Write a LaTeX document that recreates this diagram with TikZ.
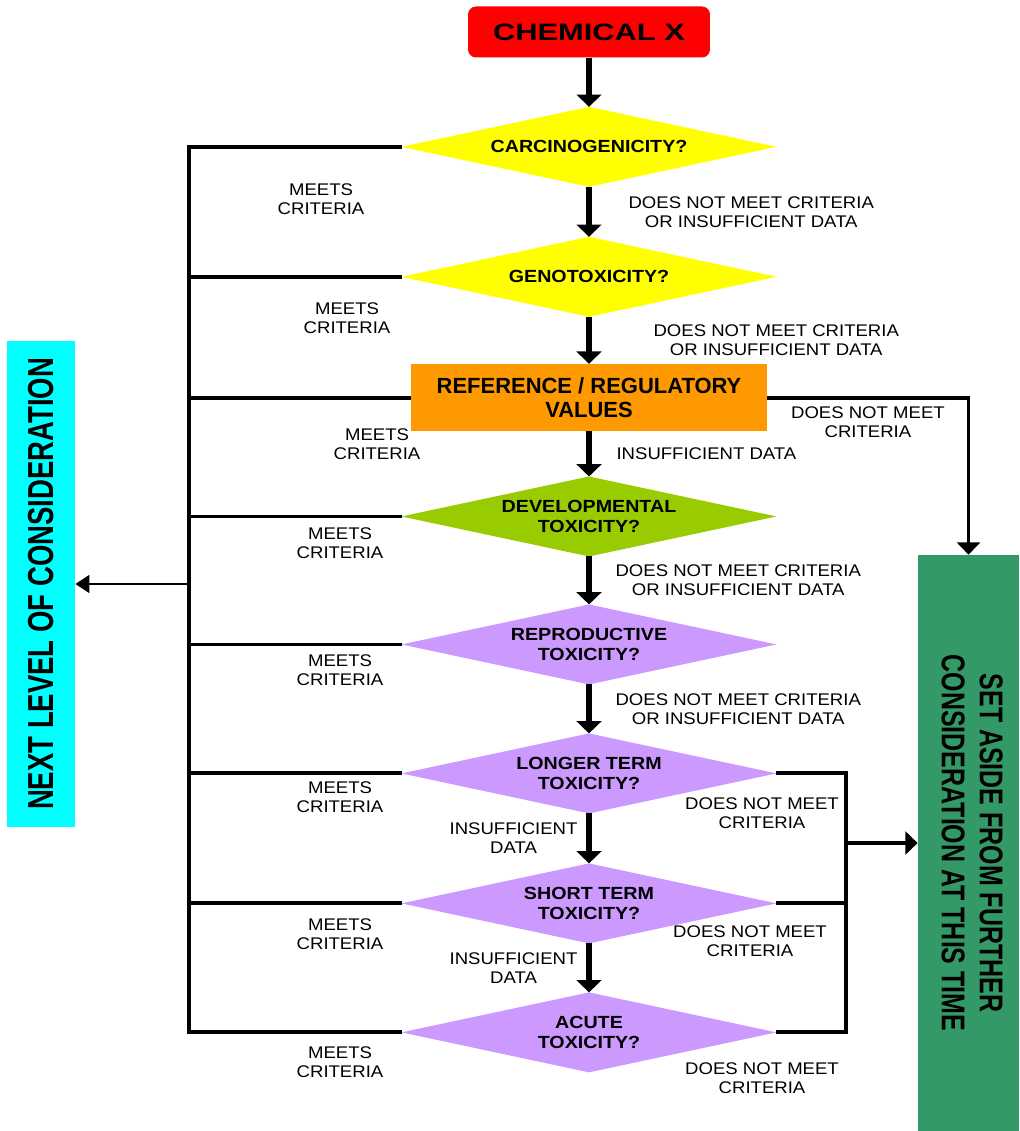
\documentclass[tikz,border=0pt]{standalone}
\usepackage{fontspec}
\setmainfont{Liberation Sans}
\newfontfamily\notefont{Liberation Sans}[FakeStretch=1.1]
\newfontfamily\qfont{Liberation Sans}[FakeStretch=1.12]
\newfontfamily\widefont{Liberation Sans}[FakeStretch=1.3]
\newfontfamily\narrowfont{Liberation Sans}[FakeStretch=0.76]
\definecolor{chemred}{RGB}{255, 0, 0}
\definecolor{qyellow}{RGB}{255, 255, 0}
\definecolor{refor}{RGB}{255, 153, 0}
\definecolor{devgreen}{RGB}{153, 204, 0}
\definecolor{qlilac}{RGB}{204, 153, 255}
\definecolor{nextcyan}{RGB}{0, 255, 255}
\definecolor{setgreen}{RGB}{51, 153, 102}
\usepackage{graphicx}
\usepackage{tikz}
\usetikzlibrary{arrows.meta, positioning, shapes.geometric}

\begin{document}
\begin{tikzpicture}[x=0.02cm, y=-0.02cm,
  startbox/.style={fill=chemred, rounded corners=0.16cm,
        minimum width=4.84cm, minimum height=1.02cm, inner sep=0pt,
        font=\widefont\bfseries\fontsize{13.5}{15}\selectfont},
  question/.style={diamond, aspect=4.7, inner sep=0pt, outer sep=0pt,
        minimum width=7.5cm, minimum height=1.6cm, align=center,
        font=\qfont\bfseries\fontsize{10}{11}\selectfont},
  refbox/.style={fill=refor, minimum width=7.12cm, minimum height=1.34cm,
        inner sep=0pt, align=center,
        font=\bfseries\fontsize{12.5}{14}\selectfont},
  nextbox/.style={fill=nextcyan, minimum width=1.36cm, minimum height=9.72cm,
        inner sep=0pt, font=\narrowfont\bfseries\fontsize{20.6}{24}\selectfont},
  setbox/.style={fill=setgreen, minimum width=2.02cm, minimum height=11.52cm,
        inner sep=0pt, font=\narrowfont\bfseries\fontsize{18.7}{21.7}\selectfont},
  note/.style={align=center, inner sep=1pt,
        font=\notefont\fontsize{9.6}{10.8}\selectfont},
  flow/.style={-{Triangle[width=14pt,length=7pt]}, line width=3.2pt},
  branch/.style={line width=2.2pt},
  sidearrow/.style={-{Triangle[width=13pt,length=7pt]}, line width=2.2pt},
  leftarrow/.style={-{Triangle[width=10pt,length=8pt]}, line width=1.7pt}]
  \useasboundingbox (0,0) rectangle (1019,1131);

  % main column
  \node[startbox] (chem) at (589,32) {CHEMICAL X};
  \node[question, fill=qyellow, below=0.98cm of chem] (carc) {CARCINOGENICITY?};
  \node[question, fill=qyellow, below=1cm of carc] (geno) {GENOTOXICITY?};
  \node[refbox, below=0.94cm of geno] (ref) {REFERENCE / REGULATORY\\VALUES};
  \node[question, fill=devgreen, below=0.9cm of ref] (dev) {DEVELOPMENTAL\\TOXICITY?};
  \node[question, fill=qlilac, below=0.96cm of dev] (repro) {REPRODUCTIVE\\TOXICITY?};
  \node[question, fill=qlilac, below=0.98cm of repro] (longt) {LONGER TERM\\TOXICITY?};
  \node[question, fill=qlilac, below=1cm of longt] (shortt) {SHORT TERM\\TOXICITY?};
  \node[question, fill=qlilac, below=0.98cm of shortt] (acute) {ACUTE\\TOXICITY?};

  % side boxes
  \node[nextbox] (next) at (41,584) {\rotatebox{90}{NEXT LEVEL OF CONSIDERATION}};
  \node[setbox] (setaside) at (968.5,843)
    {\rotatebox{-90}{\begin{tabular}{@{}c@{}}SET ASIDE FROM FURTHER\\CONSIDERATION AT THIS TIME\end{tabular}}};

  % down the column
  \draw[flow] (chem) -- (carc);
  \draw[flow] (carc) -- (geno)
    node[note, midway, right=0.7cm] {DOES NOT MEET CRITERIA\\OR INSUFFICIENT DATA};
  \draw[flow] (geno) -- (ref)
    node[note, midway, right=1.2cm] {DOES NOT MEET CRITERIA\\OR INSUFFICIENT DATA};
  \draw[flow] (ref) -- (dev)
    node[note, midway, right=0.46cm] {INSUFFICIENT DATA};
  \draw[flow] (dev) -- (repro)
    node[note, midway, right=0.44cm] {DOES NOT MEET CRITERIA\\OR INSUFFICIENT DATA};
  \draw[flow] (repro) -- (longt)
    node[note, midway, right=0.44cm] {DOES NOT MEET CRITERIA\\OR INSUFFICIENT DATA};
  \draw[flow] (longt) -- (shortt)
    node[note, midway, left=0.14cm] {INSUFFICIENT\\DATA};
  \draw[flow] (shortt) -- (acute)
    node[note, midway, left=0.14cm] {INSUFFICIENT\\DATA};

  % meets criteria -> next level
  \coordinate (trunk) at (189,0);
  \draw[branch] (carc.west) -| (trunk |- acute.west) -- (acute.west);
  \draw[branch] (geno.west) -- (geno.west -| trunk);
  \draw[branch] (ref.west) -- (ref.west -| trunk);
  \draw[branch] (dev.west) -- (dev.west -| trunk);
  \draw[branch] (repro.west) -- (repro.west -| trunk);
  \draw[branch] (longt.west) -- (longt.west -| trunk);
  \draw[branch] (shortt.west) -- (shortt.west -| trunk);
  \draw[leftarrow] (trunk |- next.east) -- (next.east);
  \node[note] (meetscarc) at (321,199) {MEETS\\CRITERIA};
  \node[note] (meetsgeno) at (347,318) {MEETS\\CRITERIA};
  \node[note] (meetsref) at (377,444) {MEETS\\CRITERIA};
  \node[note] (meetsdev) at (340,543) {MEETS\\CRITERIA};
  \node[note] (meetsrepro) at (340,670) {MEETS\\CRITERIA};
  \node[note] (meetslong) at (340,797) {MEETS\\CRITERIA};
  \node[note] (meetsshort) at (340,934) {MEETS\\CRITERIA};
  \node[note] (meetsacute) at (340,1062) {MEETS\\CRITERIA};

  % does not meet -> set aside
  \draw[sidearrow] (ref.east) -| (setaside.north)
    node[note, pos=0.25, below=3pt] {DOES NOT MEET\\CRITERIA};
  \coordinate (bracket) at (846,0);
  \draw[branch] (longt.east) -| (bracket |- acute.east) -- (acute.east);
  \draw[branch] (shortt.east) -- (shortt.east -| bracket);
  \draw[sidearrow] (bracket |- setaside.west) -- (setaside.west);
  \node[note] (notlong) at (762,813) {DOES NOT MEET\\CRITERIA};
  \node[note] (notshort) at (750,941) {DOES NOT MEET\\CRITERIA};
  \node[note] (notacute) at (762,1078) {DOES NOT MEET\\CRITERIA};
\end{tikzpicture}
\end{document}
